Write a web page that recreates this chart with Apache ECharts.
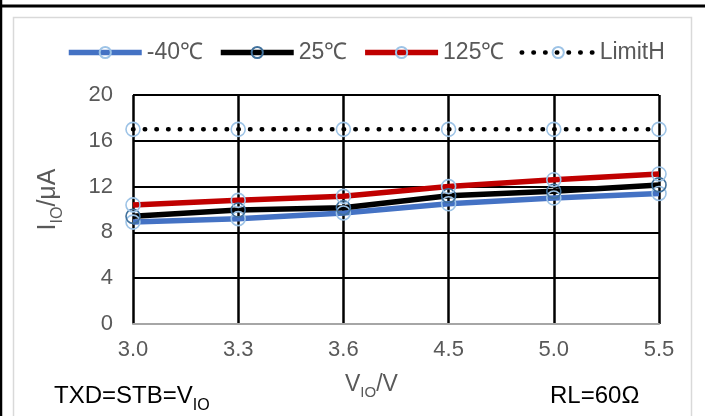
<!DOCTYPE html>
<html>
<head>
<meta charset="utf-8">
<script src="https://cdn.jsdelivr.net/npm/echarts@6/dist/echarts.min.js"></script>
<style>
  html, body { margin: 0; padding: 0; background: #fff; }
  #chart { width: 705px; height: 416px; }
</style>
</head>
<body>
<div id="chart"></div>
<script>
// Supply voltage steps on the x axis
const categories = ['3.0', '3.3', '3.6', '4.5', '5.0', '5.5'];
// I/O current in µA per temperature
const currentMinus40 = [8.9, 9.2, 9.7, 10.5, 11.0, 11.4];
const current25 = [9.4, 9.95, 10.15, 11.2, 11.6, 12.15];
const current125 = [10.4, 10.8, 11.15, 12.0, 12.6, 13.1];
const limitHigh = [17, 17, 17, 17, 17, 17];
const seriesNames = ['-40℃', '25℃', '125℃', 'LimitH'];

const FONT = '"Liberation Sans", Arial, sans-serif';
const LIGHT = '#9DC3E6';
const DARK = '#41719C';
const LIMIT_DASH = [0.5, 11.2];

function lineSeries(name, data, color, markerColor, extraLine) {
  return {
    name: name,
    type: 'line',
    data: data,
    symbol: 'circle',
    symbolSize: 14,
    showSymbol: true,
    itemStyle: { color: 'rgba(0,0,0,0)', borderColor: markerColor, borderWidth: 1.6 },
    lineStyle: Object.assign({ color: color, width: 5.5 }, extraLine || {}),
    emphasis: { disabled: true },
    animation: false
  };
}

function legendItem(name, color, extraLine) {
  return { name: name, lineStyle: Object.assign({ color: color, width: 5.5 }, extraLine || {}) };
}

const chart = echarts.init(document.getElementById('chart'), null, { renderer: 'canvas' });
chart.setOption({
  backgroundColor: '#fff',
  textStyle: { fontFamily: FONT },
  graphic: [
    { type: 'rect', shape: { x: 13.5, y: 17.5, width: 678, height: 420 }, style: { fill: 'none', stroke: '#D9D9D9', lineWidth: 1.5 }, silent: true },
    { type: 'line', shape: { x1: 0, y1: 6, x2: 705, y2: 6 }, style: { stroke: '#000', lineWidth: 3 }, silent: true },
    { type: 'line', shape: { x1: 1, y1: 0, x2: 1, y2: 416 }, style: { stroke: '#000', lineWidth: 2.5 }, silent: true },
    {
      type: 'text', left: 345, top: 373, silent: true,
      style: {
        text: '{m|V}{s|IO}{m|/V}', font: '23px ' + FONT, fill: '#595959',
        rich: {
          m: { fontSize: 23, fontFamily: FONT, fill: '#595959', verticalAlign: 'bottom' },
          s: { fontSize: 15, fontFamily: FONT, fill: '#595959', verticalAlign: 'bottom', padding: [0, 0, -4, 0] }
        }
      }
    },
    {
      type: 'text', left: 54, top: 384, silent: true,
      style: {
        text: '{m|TXD=STB=V}{s|IO}', font: '24px ' + FONT, fill: '#000',
        rich: {
          m: { fontSize: 24, fontFamily: FONT, fill: '#000', verticalAlign: 'bottom' },
          s: { fontSize: 16, fontFamily: FONT, fill: '#000', verticalAlign: 'bottom', padding: [0, 0, -6, 0] }
        }
      }
    },
    {
      type: 'text', left: 550, top: 384, silent: true,
      style: { text: 'RL=60Ω', font: '24px ' + FONT, fill: '#000' }
    }
  ],
  legend: {
    data: [
      legendItem(seriesNames[0], '#4472C4'),
      legendItem(seriesNames[1], '#000000'),
      legendItem(seriesNames[2], '#C00000'),
      legendItem(seriesNames[3], '#000000', { width: 4.5, type: LIMIT_DASH, cap: 'round' })
    ],
    left: 61,
    top: 36,
    itemWidth: 73,
    itemHeight: 14,
    itemGap: 15,
    textStyle: { fontSize: 23, color: '#595959', fontFamily: FONT },
    selectedMode: false
  },
  grid: { left: 133, right: 46, top: 95, bottom: 92, containLabel: false },
  xAxis: {
    type: 'category',
    data: categories,
    boundaryGap: false,
    axisLine: { show: true, lineStyle: { color: '#A6A6A6', width: 2 } },
    axisTick: { show: false },
    axisLabel: { color: '#595959', fontSize: 22, fontFamily: FONT, margin: 15 },
    splitLine: { show: true, lineStyle: { color: '#000', width: 2.5 } }
  },
  yAxis: {
    type: 'value',
    min: 0,
    max: 20,
    interval: 4,
    axisLine: { show: false },
    axisTick: { show: false },
    axisLabel: { color: '#595959', fontSize: 22, fontFamily: FONT, margin: 20 },
    splitLine: { show: true, lineStyle: { color: '#000', width: 2 } },
    name: '{m|I}{s|IO}{m|/μA}',
    nameLocation: 'middle',
    nameRotate: 90,
    nameGap: 72,
    nameTextStyle: {
      color: '#595959', fontFamily: FONT,
      padding: [0, 0, 0, 20],
      rich: {
        m: { fontSize: 25, fontFamily: FONT, color: '#595959', verticalAlign: 'bottom' },
        s: { fontSize: 16, fontFamily: FONT, color: '#595959', verticalAlign: 'bottom', padding: [0, 0, -5, 0] }
      }
    }
  },
  series: [
    lineSeries(seriesNames[0], currentMinus40, '#4472C4', LIGHT),
    lineSeries(seriesNames[1], current25, '#000000', DARK),
    lineSeries(seriesNames[2], current125, '#C00000', LIGHT),
    lineSeries(seriesNames[3], limitHigh, '#000000', LIGHT, { width: 4.5, type: LIMIT_DASH, cap: 'round' })
  ]
});
</script>
</body>
</html>
